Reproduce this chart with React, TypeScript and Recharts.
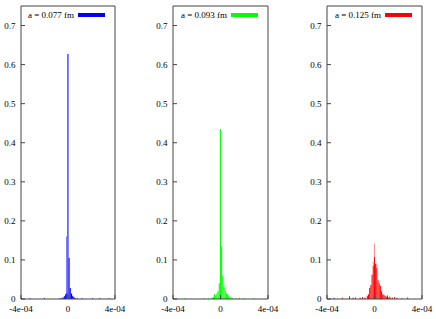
import React from 'react';
import { BarChart, Bar, XAxis, YAxis, Legend } from 'recharts';

// ---- shared axes ----
const X_TICKS = [-4e-4, 0, 4e-4];
const Y_TICKS = [0, 0.1, 0.2, 0.3, 0.4, 0.5, 0.6, 0.7];
const X_DOMAIN: [number, number] = [-4e-4, 4e-4];
const Y_DOMAIN: [number, number] = [0, 0.75];
const BIN = 1e-5; // bin width in x units

// ---- series labels ----
const LABELS = ['a = 0.077 fm', 'a = 0.093 fm', 'a = 0.125 fm'];

// ---- a = 0.077 fm (blue) : bin index (x / 1e-5), solid height, lighter overlap ----
const binsA = [-39, -32, -20, -7, -5, -4, -3, -2, -1, 0, 1, 2, 3, 4, 5, 6, 8, 12, 21, 27, 35];
const solidA = [0.002, 0.002, 0.002, 0.002, 0.003, 0.004, 0.007, 0.012, 0.016, 0.627, 0.105, 0.028, 0.014, 0.008, 0.005, 0.003, 0.002, 0.002, 0.002, 0.002, 0.002];
const lightA = [0, 0, 0, 0, 0, 0, 0, 0, 0.144, 0, 0, 0, 0, 0, 0, 0, 0, 0, 0, 0, 0];

// ---- a = 0.093 fm (green) ----
const binsB = [-30, -14, -10, -7, -6, -5, -4, -3, -2, -1, 0, 1, 2, 3, 4, 5, 6, 7, 8, 9, 10, 13, 16, 20, 28];
const solidB = [0.002, 0.002, 0.002, 0.004, 0.006, 0.012, 0.008, 0.015, 0.02, 0.04, 0.435, 0.135, 0.06, 0.035, 0.022, 0.015, 0.012, 0.008, 0.006, 0.004, 0.003, 0.002, 0.003, 0.002, 0.002];
const lightB = [0, 0, 0, 0, 0, 0, 0, 0, 0, 0, 0, 0, 0, 0, 0, 0, 0, 0, 0, 0, 0, 0, 0, 0, 0];

// ---- a = 0.125 fm (red) ----
const binsC = [-34, -27, -21, -18, -16, -12, -10, -8, -6, -5, -4, -3, -2, -1, 0, 1, 2, 3, 4, 5, 6, 7, 8, 9, 10, 11, 12, 13, 15, 17, 19, 23, 28];
const solidC = [0.003, 0.003, 0.007, 0.003, 0.004, 0.003, 0.005, 0.004, 0.008, 0.012, 0.028, 0.036, 0.062, 0.085, 0.108, 0.09, 0.08, 0.048, 0.04, 0.034, 0.02, 0.012, 0.01, 0.008, 0.006, 0.009, 0.004, 0.006, 0.004, 0.005, 0.003, 0.002, 0.004];
const lightC = [0, 0, 0, 0, 0, 0, 0, 0, 0, 0, 0, 0, 0, 0.01, 0.034, 0, 0.01, 0, 0, 0, 0, 0, 0, 0, 0, 0, 0, 0, 0, 0, 0, 0, 0];

const build = (bins: number[], solid: number[], light: number[]) =>
  bins.map((b, i) => ({ x: b * BIN, solid: solid[i], light: light[i] }));

const FONT = "'Liberation Serif', 'DejaVu Serif', serif";

const fmtX = (v: number) => {
  if (v === 0) return '0';
  const e = Math.floor(Math.log10(Math.abs(v)) + 1e-9);
  const m = Math.round(v / Math.pow(10, e));
  const sign = e < 0 ? '-' : '+';
  return `${m}e${sign}${String(Math.abs(e)).padStart(2, '0')}`;
};

type PanelProps = {
  label: string;
  color: string;
  light: string;
  data: { x: number; solid: number; light: number }[];
  left: number;
  yw: number;
  plotW: number;
  rm: number;
};

const Panel = ({ label, color, light, data, left, yw, plotW, rm }: PanelProps) => {
  const width = yw + plotW + 1 + rm;
  const tickStyle = { fontSize: 9, fontFamily: FONT, fill: '#000' };
  const renderLegend = (props: any) => {
    const item = (props.payload || [])[0];
    return (
      <div
        style={{
          display: 'flex',
          justifyContent: 'flex-end',
          alignItems: 'center',
          paddingRight: 10,
          fontFamily: FONT,
          fontSize: 9,
          color: '#000',
          lineHeight: '10px',
        }}
      >
        <span>{item ? item.value : label}</span>
        <span
          style={{
            display: 'inline-block',
            width: 27,
            height: 4,
            marginLeft: 4,
            background: item ? item.color : color,
          }}
        />
      </div>
    );
  };
  return (
    <div style={{ position: 'absolute', left, top: 0 }}>
      <BarChart
        width={width}
        height={319}
        data={data}
        margin={{ top: 5, right: rm, bottom: 0, left: 0 }}
      >
        <XAxis
          xAxisId="b"
          dataKey="x"
          type="number"
          domain={X_DOMAIN}
          ticks={X_TICKS}
          interval={0}
          allowDataOverflow
          tickFormatter={fmtX}
          height={20}
          stroke="#444"
          tickSize={-4}
          tickMargin={10.5}
          tick={tickStyle}
        />
        <XAxis
          xAxisId="t"
          orientation="top"
          dataKey="x"
          type="number"
          domain={X_DOMAIN}
          ticks={X_TICKS}
          interval={0}
          allowDataOverflow
          height={1}
          stroke="#444"
          tickSize={-4}
          tick={false}
        />
        <YAxis
          yAxisId="l"
          type="number"
          domain={Y_DOMAIN}
          ticks={Y_TICKS}
          interval={0}
          allowDataOverflow
          width={yw}
          stroke="#444"
          tickSize={-4}
          tickMargin={9.5}
          tick={tickStyle}
        />
        <YAxis
          yAxisId="r"
          orientation="right"
          type="number"
          domain={Y_DOMAIN}
          ticks={Y_TICKS}
          interval={0}
          allowDataOverflow
          width={1}
          stroke="#444"
          tickSize={-4}
          tick={false}
        />
        <Bar
          xAxisId="b"
          yAxisId="l"
          dataKey="solid"
          stackId="s"
          name={label}
          fill={color}
          barSize={1.5}
          isAnimationActive={false}
        />
        <Bar
          xAxisId="b"
          yAxisId="l"
          dataKey="light"
          stackId="s"
          fill={light}
          barSize={1.5}
          legendType="none"
          isAnimationActive={false}
        />
        <Legend
          layout="vertical"
          align="center"
          verticalAlign="middle"
          content={renderLegend}
          wrapperStyle={{ top: 10, left: yw, width: plotW, height: 10 }}
        />
      </BarChart>
    </div>
  );
};

export default function App() {
  return (
    <div style={{ position: 'absolute', left: 0, top: 0, width: 436, height: 319, background: '#fff' }}>
      <Panel label={LABELS[0]} color="#0000ff" light="#5a5aff" data={build(binsA, solidA, lightA)} left={0} yw={21} plotW={94} rm={14} />
      <Panel label={LABELS[1]} color="#00ff00" light="#77ff77" data={build(binsB, solidB, lightB)} left={148} yw={25} plotW={95} rm={14} />
      <Panel label={LABELS[2]} color="#ff0000" light="#ff8c8c" data={build(binsC, solidC, lightC)} left={302} yw={25} plotW={95} rm={13} />
    </div>
  );
}
